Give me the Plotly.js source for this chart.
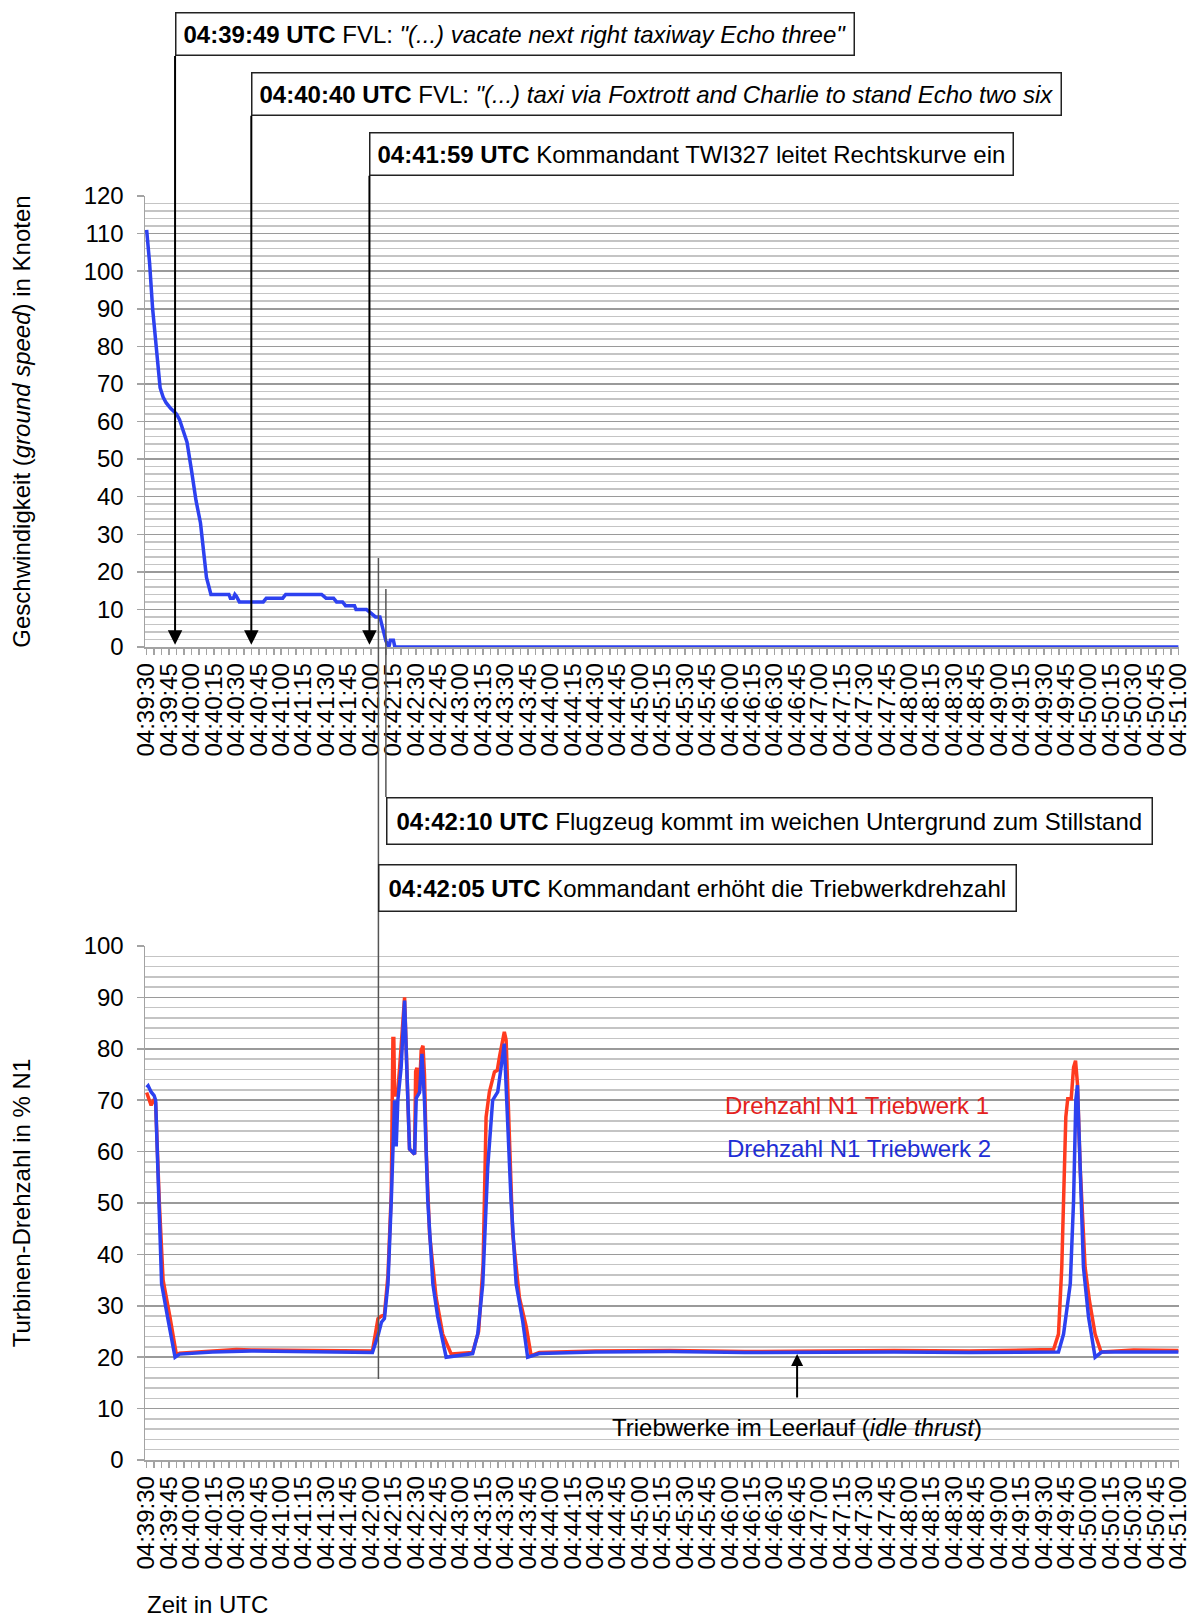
<!DOCTYPE html>
<html>
<head>
<meta charset="utf-8">
<script src="https://cdn.plot.ly/plotly-3.0.1.min.js"></script>
<style>html,body{margin:0;padding:0;background:#fff;}</style>
</head>
<body>
<div id="chart" style="width:1195px;height:1619px;"></div>
<script>
// ---------------- DATA ----------------
const tickLabels = ["04:39:30","04:39:45","04:40:00","04:40:15","04:40:30","04:40:45","04:41:00","04:41:15",
  "04:41:30","04:41:45","04:42:00","04:42:15","04:42:30","04:42:45","04:43:00","04:43:15","04:43:30",
  "04:43:45","04:44:00","04:44:15","04:44:30","04:44:45","04:45:00","04:45:15","04:45:30","04:45:45",
  "04:46:00","04:46:15","04:46:30","04:46:45","04:47:00","04:47:15","04:47:30","04:47:45","04:48:00",
  "04:48:15","04:48:30","04:48:45","04:49:00","04:49:15","04:49:30","04:49:45","04:50:00","04:50:15",
  "04:50:30","04:50:45","04:51:00"];

// ground speed (knots); time = seconds after 04:39:30
const speedT  = [0,2,4,7,9,11,13,16,20,22,24,27,30,33,36,38,40,43,55,56,58,59,60,62,78,80,91,93,117,120,
  125,127,131,133,139,140,147,150,153,156,158,160,162,163,165,166,690];
const speedKn = [111,102,90,78,69,66.5,65,63.5,62,60.5,58,54.5,47,39,33,25,18.5,14,14,13,13,14,13.5,12,12,13,
  13,14,14,13,13,12,12,11,11,10,10,9,8,8,5,1.6,0,1.8,1.8,0,0];

// N1 engine 1 (%), time = seconds after 04:39:30
const n1T1 = [0,1,3,5,6,8.5,11,15.6,20,22,44,60,70,100,130,151,154.7,157,159,161.4,163.6,164.2,164.7,165.3,
  165.8,167,168,169.1,172.5,174.7,175.8,179.2,179.9,180.8,181.4,182.5,183.6,184.8,185.8,187,189.2,193.6,198,
  203.7,218,222,225,227,229.2,232.6,234.5,236,239.2,240.4,242.6,244.8,249.3,253.8,257.1,262.6,300,350,400,
  450,500,550,606.5,609.8,612,614.7,616,618.3,619.9,621.2,622.5,624.3,627.6,630.5,634.3,638.3,660,690];
const n1E1 = [71.5,70.5,69,70.2,69.5,50,35,27.8,20.3,20.8,21.2,21.5,21.4,21.3,21.2,21.2,27.5,28,28.2,36,52,72,
  82,82,71,71,72,76,90,70,60.5,59.5,75.6,76.3,71,72,79.7,80.6,75,60,44,31.6,24.5,20.6,20.9,25,38,66.7,71.6,
  75.5,75.8,78.5,83.3,81.7,63.7,44,31.6,26,20.3,20.9,21.2,21.3,21.1,21.2,21.3,21.2,21.5,24.5,37.5,66.7,70.3,
  70.3,76.4,77.7,73.2,57,37.5,31,24.5,21,21.4,21.3];

// N1 engine 2 (%)
const n1T2 = [0,1,3,5,6,8,10,14,19,22,44,70,100,130,151,155,157,159,161.4,163.6,164.7,165.8,166.9,168,170.2,
  172.5,174.7,175.8,179.2,180.3,182.5,184.1,185.8,188,191.4,194.7,200.3,218,221.4,224.8,228.1,231.4,234.8,
  237,239.2,240.8,243.7,247.1,251.5,254.8,262.6,300,350,400,450,500,550,609.8,613.2,617.7,619.9,621.4,
  622.5,624.3,626.5,629.9,634.3,638.7,690];
const n1E2 = [72.5,72.8,71.6,70.9,70,50.5,34.3,27.8,20,20.6,21,21.2,21.1,21,20.9,24.5,26.8,27.5,34.3,50.5,
  61,70,61,70,76.4,89.4,70,60.5,59.5,70.4,71.5,79,70,50.5,34.3,27.8,20,20.7,24.5,34.3,57,70,71.6,76.4,81,
  70,50.5,34.3,27,20,20.7,21,21.1,20.9,21,21,20.9,21,24.5,34.3,50.5,70,72.9,57,37.5,27.8,20,21,21];

const eventTimes = ["04:39:49","04:40:40","04:41:59","04:42:10","04:42:05"];
const eventTexts = [
  '<b>04:39:49 UTC</b> FVL: <i>"(...) vacate next right taxiway Echo three"</i>',
  '<b>04:40:40 UTC</b> FVL: <i>"(...) taxi via Foxtrott and Charlie to stand Echo two six</i>',
  '<b>04:41:59 UTC</b> Kommandant TWI327 leitet Rechtskurve ein',
  '<b>04:42:10 UTC</b> Flugzeug kommt im weichen Untergrund zum Stillstand',
  '<b>04:42:05 UTC</b> Kommandant erhöht die Triebwerkdrehzahl'
];
const seriesNames = ["Drehzahl N1 Triebwerk 1", "Drehzahl N1 Triebwerk 2"];
const idleTime = "04:46:45";
const idleText = 'Triebwerke im Leerlauf (<i>idle thrust</i>)';
const speedTitle = 'Geschwindigkeit (<i>ground speed</i>) in Knoten';
const n1Title = 'Turbinen-Drehzahl in % N1';
const timeTitle = 'Zeit in UTC';

// ---------------- HELPERS ----------------
const FONT = 'Liberation Sans, Arial, Helvetica, sans-serif';
const FS = 24;
const W = 1195, H = 1619, ML = 145, MR = 16;
const toSec = s => { const p = s.split(':').map(Number); return p[0]*3600 + p[1]*60 + p[2]; };
const T0 = toSec(tickLabels[0]);
const rel = s => toSec(s) - T0;
const py = p => 1 - p / H;
const px = p => (p - ML) / (W - ML - MR);

const BLUE = '#2d41f0', RED = '#ff3b1f';
const GRID_MAJOR = '#9a9a9a', GRID_MINOR = '#c4c4c4', AXIS = '#a3a3a3';

function xAxis(anchor) {
  return {
    anchor: anchor, domain: [0, 1], range: [-1.1, 690.4],
    tickmode: 'array', tickvals: tickLabels.map(rel), ticktext: tickLabels,
    tickangle: -90, ticks: 'outside', ticklen: 6, tickwidth: 1.5, tickcolor: AXIS,
    ticklabelstandoff: -1,
    showline: true, linecolor: AXIS, linewidth: 1.5, showgrid: false, zeroline: false,
    tickfont: { family: FONT, size: FS, color: '#000' },
    minor: { tickmode: 'linear', tick0: 0, dtick: 5, ticks: 'outside', ticklen: 6, tickwidth: 1.5,
             tickcolor: AXIS, showgrid: false },
    fixedrange: true
  };
}
function yAxis(anchor, domain, range, title) {
  return {
    anchor: anchor, domain: domain, range: range,
    tickmode: 'linear', tick0: 0, dtick: 10,
    ticks: 'outside', ticklen: 7, tickwidth: 1.5, tickcolor: AXIS, ticklabelstandoff: 8,
    showline: true, linecolor: AXIS, linewidth: 1.5,
    showgrid: true, gridcolor: GRID_MAJOR, gridwidth: 1.5, zeroline: false,
    minor: { tickmode: 'linear', tick0: 0, dtick: 2, showgrid: true, gridcolor: GRID_MINOR, gridwidth: 1.5, ticks: '' },
    tickfont: { family: FONT, size: FS, color: '#000' },
    title: { text: title, font: { family: FONT, size: FS, color: '#000' }, standoff: 46 },
    fixedrange: true
  };
}

// ---------------- TRACES ----------------
const traces = [
  { x: speedT, y: speedKn, xaxis: 'x', yaxis: 'y', mode: 'lines', name: 'Ground speed',
    line: { color: BLUE, width: 3.5 } },
  { x: n1T1, y: n1E1, xaxis: 'x2', yaxis: 'y2', mode: 'lines', name: seriesNames[0],
    line: { color: RED, width: 3.5 } },
  { x: n1T2, y: n1E2, xaxis: 'x2', yaxis: 'y2', mode: 'lines', name: seriesNames[1],
    line: { color: BLUE, width: 3.5 } }
];

// ---------------- ANNOTATIONS ----------------
const boxTop = [12.4, 72.3, 132, 797, 864.5];
const boxBottom = [53.7, 113.6, 173.5];
const boxPad = [7, 7, 7, 9, 9];
const annotations = [];
eventTexts.forEach((t, i) => {
  annotations.push({
    text: t, x: rel(eventTimes[i]), xref: 'x', xanchor: 'left',
    y: py(boxTop[i]), yref: 'paper', yanchor: 'top', showarrow: false, align: 'left',
    bordercolor: '#222', borderwidth: 1.5, borderpad: boxPad[i], bgcolor: '#fff',
    font: { family: FONT, size: FS, color: '#000' }
  });
});
for (let i = 0; i < 3; i++) {
  annotations.push({
    text: '', x: rel(eventTimes[i]), y: 0.6, xref: 'x', yref: 'y',
    ax: 0, ay: -(644 - boxBottom[i]), axref: 'pixel', ayref: 'pixel',
    showarrow: true, arrowhead: 2, arrowsize: 1.45, arrowwidth: 2, arrowcolor: '#000'
  });
}
// legend-like labels
annotations.push({ text: seriesNames[0], x: px(723), xref: 'paper', xanchor: 'left', y: py(1105), yref: 'paper',
  yanchor: 'middle', showarrow: false, font: { family: FONT, size: FS, color: '#e3211d' } });
annotations.push({ text: seriesNames[1], x: px(725), xref: 'paper', xanchor: 'left', y: py(1148), yref: 'paper',
  yanchor: 'middle', showarrow: false, font: { family: FONT, size: FS, color: '#1f2fd6' } });
// idle thrust
annotations.push({ text: idleText, x: rel(idleTime), xref: 'x2', xanchor: 'center', y: py(1427), yref: 'paper',
  yanchor: 'middle', showarrow: false, font: { family: FONT, size: FS, color: '#000' } });
annotations.push({ text: '', x: rel(idleTime), y: 20.6, xref: 'x2', yref: 'y2', ax: 0, ay: 45,
  axref: 'pixel', ayref: 'pixel', showarrow: true, arrowhead: 2, arrowsize: 1.2, arrowwidth: 2, arrowcolor: '#000' });
// x-axis title
annotations.push({ text: timeTitle, x: 0, xref: 'paper', xanchor: 'left', y: py(1604), yref: 'paper',
  yanchor: 'middle', showarrow: false, font: { family: FONT, size: FS, color: '#000' } });

// ---------------- SHAPES ----------------
const shapes = [
  { type: 'line', xref: 'x', yref: 'paper', x0: rel(eventTimes[3]), x1: rel(eventTimes[3]),
    y0: py(589), y1: py(797), line: { color: '#555', width: 1.5 } },
  { type: 'line', xref: 'x', yref: 'paper', x0: rel(eventTimes[4]), x1: rel(eventTimes[4]),
    y0: py(558), y1: py(1379), line: { color: '#555', width: 1.5 } }
];

const layout = {
  width: W, height: H,
  margin: { l: ML, r: MR, t: 0, b: 0 },
  paper_bgcolor: '#fff', plot_bgcolor: '#fff',
  showlegend: false,
  font: { family: FONT, size: FS, color: '#000' },
  xaxis: xAxis('y'),
  yaxis: yAxis('x', [py(647), py(196)], [0, 120], speedTitle),
  xaxis2: xAxis('y2'),
  yaxis2: yAxis('x2', [py(1460), py(946)], [0, 100], n1Title),
  annotations: annotations,
  shapes: shapes
};

Plotly.newPlot('chart', traces, layout, { displayModeBar: false, staticPlot: true });
</script>
</body>
</html>
